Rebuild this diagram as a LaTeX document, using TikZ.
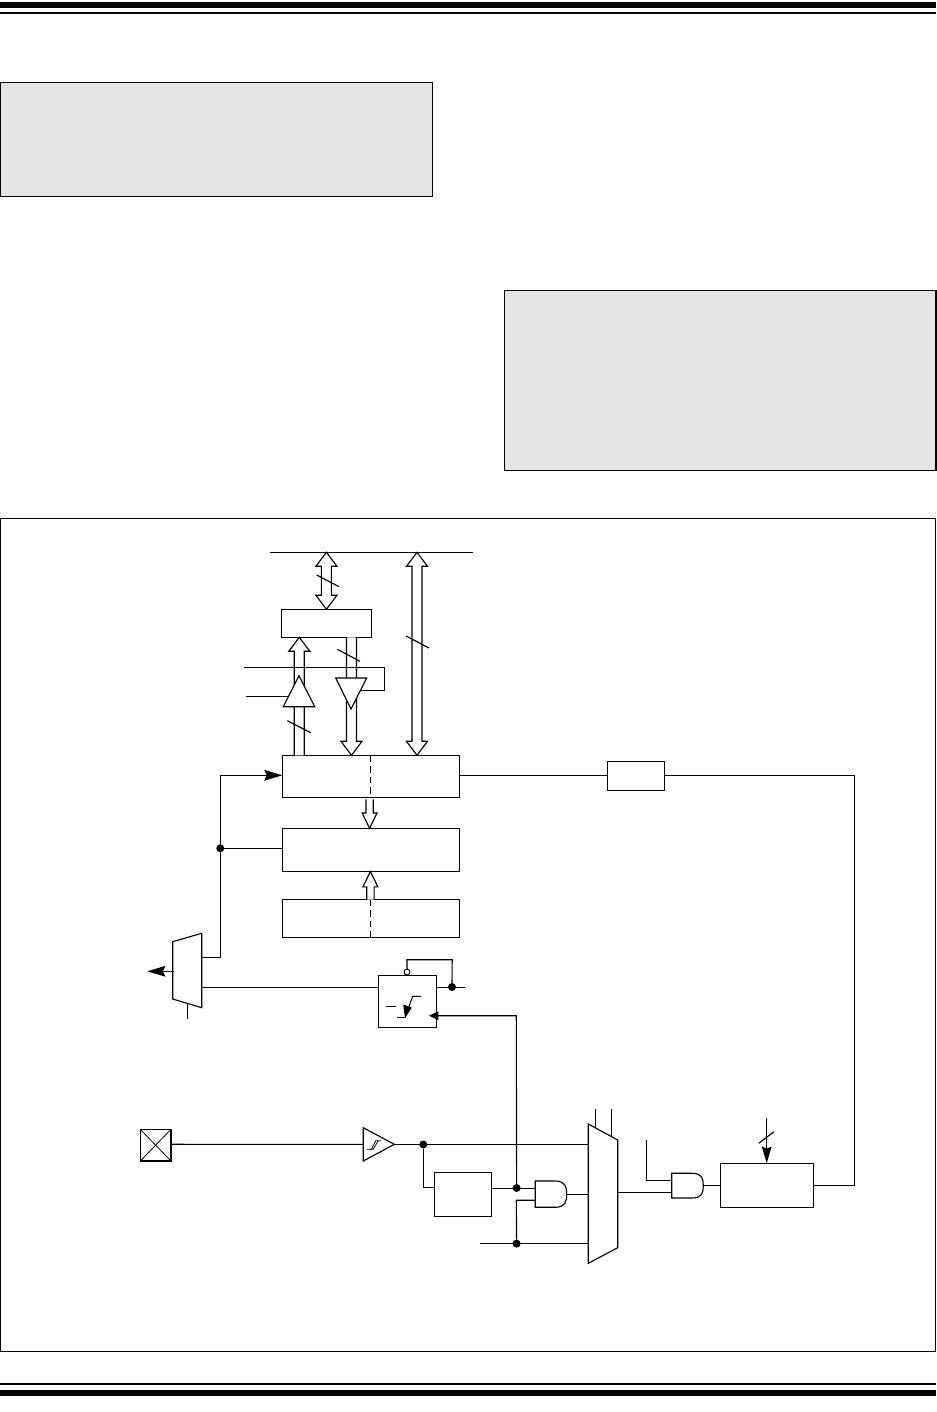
\documentclass[tikz,border=0pt]{standalone}
\usetikzlibrary{arrows.meta,calc}
\def\u{0.75pt}
\def\sw{3.75pt}\def\hw{7.9pt}\def\hl{10.5pt}
\tikzset{
  x=0.75pt,y=-0.75pt,
  wire/.style={line width=0.85pt,line cap=butt,line join=miter},
  blk/.style={draw=black,fill=white,line width=0.85pt,inner sep=0pt,outer sep=0pt},
  panel/.style={draw=black,fill=black!10,line width=0.95pt,inner sep=0pt,outer sep=0pt},
  bar/.style={fill=black,draw=none,inner sep=0pt,outer sep=0pt},
  ghost/.style={inner sep=0pt,outer sep=0pt},
  junction/.style={circle,fill=black,draw=none,minimum size=6pt,inner sep=0pt,outer sep=0pt},
  bubble/.style={circle,fill=white,draw=black,line width=0.7pt,minimum size=4.4pt,inner sep=0pt,outer sep=0pt},
  sarrow/.style={wire,-{Stealth[length=13.5pt,width=8pt,inset=1.8pt]}},
  sarrowb/.style={wire,-{Stealth[length=12.5pt,width=7.2pt,inset=1.5pt]}},
  sarrowc/.style={wire,-{Stealth[length=7pt,width=6.4pt,inset=0pt]}},
  bus/.style={draw=black,fill=white,line width=0.85pt,line join=miter},
  tick/.style={line width=0.85pt},
  dashv/.style={line width=0.85pt,dash pattern=on 5pt off 3pt},
  slim/.style={line width=0.6pt},
}
% rectangle node given by its corners in reference pixels
\newcommand\rectnode[6]{%
  \pgfmathsetmacro\cxx{(#3+#5)/2}\pgfmathsetmacro\cyy{(#4+#6)/2}%
  \pgfmathsetmacro\ww{(#5-#3)*0.75}\pgfmathsetmacro\hh{(#6-#4)*0.75}%
  \node[#1,minimum width=\ww pt,minimum height=\hh pt] (#2) at (\cxx,\cyy) {};}
% hollow bus arrow: open end at #1, head at #2
\newcommand\busone[2]{%
  \path[bus] let \p1=(#1),\p2=(#2),\n1={(\y2-\y1)/abs(\y2-\y1)} in
   ({\x2-\sw},\y1) -- ({\x2-\sw},{\y2-\n1*\hl}) -- ({\x2-\hw},{\y2-\n1*\hl}) -- (\x2,\y2)
   -- ({\x2+\hw},{\y2-\n1*\hl}) -- ({\x2+\sw},{\y2-\n1*\hl}) -- ({\x2+\sw},\y1);}
% hollow bus arrow with heads at both ends
\newcommand\busboth[2]{%
  \path[bus] let \p1=(#1),\p2=(#2),\n1={(\y2-\y1)/abs(\y2-\y1)} in
   (\x2,\y1) -- ({\x2-\hw},{\y1+\n1*\hl}) -- ({\x2-\sw},{\y1+\n1*\hl}) -- ({\x2-\sw},{\y2-\n1*\hl}) -- ({\x2-\hw},{\y2-\n1*\hl}) -- (\x2,\y2)
   -- ({\x2+\hw},{\y2-\n1*\hl}) -- ({\x2+\sw},{\y2-\n1*\hl}) -- ({\x2+\sw},{\y1+\n1*\hl}) -- ({\x2+\hw},{\y1+\n1*\hl}) -- cycle;}
% AND gate: name, corners
\newcommand\andgate[5]{%
  \rectnode{ghost}{#1}{#2}{#3}{#4}{#5}%
  \pgfmathsetmacro\rr{(#5-#3)/2}\pgfmathsetmacro\xs{#4-\rr*0.9}\pgfmathsetmacro\rx{\rr*0.9}%
  \draw[blk] (#1.north west) -- (\xs,#3) .. controls ({\xs+\rx*0.9},#3) and (#4,{#3+\rr*0.45}) .. (#4,{#3+\rr}) .. controls (#4,{#5-\rr*0.45}) and ({\xs+\rx*0.9},#5) .. (\xs,#5) -- (#1.south west) -- cycle;}
\begin{document}
\begin{tikzpicture}
\useasboundingbox (0,0) rectangle (937,1412);
% page rules
\rectnode{bar}{ruleA}{0}{2}{936}{8}
\rectnode{bar}{ruleB}{0}{12}{936}{14}
\rectnode{bar}{ruleC}{0}{1383}{936}{1385}
\rectnode{bar}{ruleD}{0}{1390}{936}{1396}
% shaded panels and frame
\rectnode{panel}{noteA}{0.6}{82.6}{432.2}{196.2}
\rectnode{panel}{noteB}{504.4}{290.6}{936}{470.2}
\rectnode{blk}{frame}{0.6}{518.3}{935.7}{1351.4}
% bus rail
\coordinate (railL) at (270,552.3);
\coordinate (railR) at (473,552.3);
\draw[wire] (railL) -- (railR);
% blocks
\rectnode{blk}{reg}{281.3}{609.3}{371.3}{637.3}
\rectnode{blk}{main}{282.3}{755.3}{459.7}{797.3}
\rectnode{blk}{mid}{282.3}{828.3}{459.7}{871.3}
\rectnode{blk}{low}{282.3}{899.3}{459.7}{937.3}
\rectnode{blk}{small}{607.3}{761.3}{664.7}{790.3}
\rectnode{blk}{ff}{378.3}{975.3}{436.3}{1027.3}
\rectnode{blk}{delay}{434.3}{1172.3}{491.7}{1216.3}
\rectnode{blk}{ctr}{720.3}{1163.3}{813.3}{1207.3}
\rectnode{blk}{pin}{140.3}{1129.3}{171}{1161}
\draw[slim] (pin.north west) -- (pin.south east) (pin.north east) -- (pin.south west);
% dashed dividers
\draw[dashv] (370.3,755.3) -- (370.3,797.3);
\draw[dashv] (370.3,899.3) -- (370.3,937.3);
% bus arrows
\coordinate (railA) at (326.4,552.3);
\coordinate (railB) at (417,552.3);
\coordinate (regN) at (326.4,609.3);
\coordinate (mainB) at (417,755.3);
\coordinate (regUp) at (299.3,637.3);
\coordinate (mainUp) at (299.3,755.3);
\coordinate (regDn) at (351.5,637.3);
\coordinate (mainDn) at (351.5,755.3);
\busboth{railA}{regN}
\busboth{railB}{mainB}
\busone{mainUp}{regUp}
\busone{regDn}{mainDn}
% narrower bus arrows between blocks
\begingroup
\def\sw{2.75pt}\def\hw{5.6pt}\def\hl{11.5pt}
\coordinate (mainS) at (369.6,799.3);
\coordinate (midN) at (369.6,828.3);
\coordinate (lowN) at (370.4,899.6);
\coordinate (midS) at (370.4,871.5);
\busone{mainS}{midN}
\busone{lowN}{midS}
\endgroup
% enable lines crossing the buses
\coordinate (enA) at (244,667.3); \coordinate (enB) at (384.3,667.3); \coordinate (enC) at (384.3,690.3); \coordinate (enD) at (360.8,690.3);
\draw[wire] (enA) -- (enB) -- (enC) -- (enD);
% tristate buffers
\coordinate (tuA) at (299,675.7); \coordinate (tuB) at (283.3,706.7); \coordinate (tuC) at (314.7,706.7);
\draw[bus] (tuA) -- (tuB) -- (tuC) -- cycle;
\coordinate (tdA) at (335.7,678); \coordinate (tdB) at (366.7,678); \coordinate (tdC) at (351,709);
\draw[bus] (tdA) -- (tdB) -- (tdC) -- cycle;
\coordinate (en2) at (246,696.3); \coordinate (en2e) at (288.4,696.3);
\draw[wire] (en2) -- (en2e);
% bus width ticks
\draw[tick] (316.7,575) -- (339,586.7);
\draw[tick] (337.3,649.3) -- (360,661.3);
\draw[tick] (287.3,720.7) -- (310.7,732.7);
\draw[tick] (406,636) -- (429,648);
\draw[tick] (758.7,1143.3) -- (774,1131.7);
% left mux
\coordinate (mxA) at (172.7,941.7); \coordinate (mxB) at (201.7,933.3); \coordinate (mxC) at (201.7,1007.7); \coordinate (mxD) at (172.7,999);
\draw[bus] (mxA) -- (mxB) -- (mxC) -- (mxD) -- cycle;
\coordinate (mxOut) at (174,971.3); \coordinate (mxTip) at (147.3,971.3);
\draw[sarrow] (mxOut) -- (mxTip);
\coordinate (mxSelT) at (187.3,1003.4); \coordinate (mxSelB) at (187.3,1018.7);
\draw[wire] (mxSelT) -- (mxSelB);
\coordinate (mxI1) at (201.7,957.3); \coordinate (mxI2) at (201.7,987.3);
\node[junction] (dotL) at (220.3,848.3) {};
\draw[sarrow] (mxI1) -- (220.3,957.3) -- (220.3,775.3) -- (main.west |- 0,775.3);
\draw[wire] (dotL) -- (mid.west |- dotL);
\draw[wire] (mxI2) -- (ff.west |- mxI2);
% flip-flop
\node[bubble] (ffq) at (407,972) {};
\node[junction] (dotQ) at (452,987) {};
\coordinate (ffOut) at (464.7,987.3);
\draw[wire] (ff.east |- ffOut) -- (ffOut);
\draw[wire] (ffq.north) -- (407,959.7) -- (452.2,959.7) -- (dotQ);
\draw[wire,line width=0.75pt] (386,1006.3) -- (396,1006.3);
\draw[wire,line width=0.75pt] (397,1017.3) -- (405.3,1017.3);
\draw[wire,line width=0.75pt] (421,996.3) -- (412.7,996.3) -- (408,1009);
\fill (405,1018.3) -- (403.2,1004.5) -- (411.8,1007.6) -- cycle;
% input chain
\coordinate (bfA) at (363.3,1127.7); \coordinate (bfB) at (363.3,1161); \coordinate (bfC) at (394.3,1144.3);
\draw[bus] (bfA) -- (bfC) -- (bfB) -- cycle;
\draw[slim] (366.7,1149.3) -- (371.5,1149.3) -- (375.7,1140.7) -- (381,1140.7);
\draw[slim] (370,1149.3) -- (373.2,1149.3) -- (378.2,1140.7);
\draw[wire] (pin.east |- bfC) -- ($(bfA)!0.5!(bfB)$);
% input mux
\coordinate (imA) at (588.3,1124); \coordinate (imB) at (617.7,1140); \coordinate (imC) at (617.7,1247.7); \coordinate (imD) at (588.3,1263.3);
\draw[bus] (imA) -- (imB) -- (imC) -- (imD) -- cycle;
\coordinate (sel1) at (595.7,1109); \coordinate (sel1e) at (595.7,1128);
\coordinate (sel2) at (611.3,1109); \coordinate (sel2e) at (611.3,1136.5);
\draw[wire] (sel1) -- (sel1e);
\draw[wire] (sel2) -- (sel2e);
\node[junction] (dotIn) at (423.3,1144.5) {};
\coordinate (imI1) at (588.3,1144.3);
\draw[wire] (bfC) -- (imI1);
\draw[wire] (dotIn) -- (423.3,1187.3) -- (delay.west |- 0,1187.3);
% AND gates
\andgate{gA}{535.3}{1181}{566.7}{1207.3}
\andgate{gB}{671.7}{1173.3}{703.3}{1198}
\node[junction] (dotAnd) at (516.6,1188) {};
\node[junction] (dotEn) at (516.6,1243.6) {};
\coordinate (enIn) at (480,1243.3);
\coordinate (imI3) at (588.3,1243.3);
\draw[wire] (enIn) -- (imI3);
\draw[wire] (delay.east |- 0,1188.3) -- (gA.west |- 0,1188.3);
\draw[wire] (dotEn) -- (516.3,1200.3) -- (gA.west |- 0,1200.3);
\draw[wire] (gA.east) -- (imA |- gA.east);
\coordinate (ffClk) at (429,1015.7);
\draw[sarrowc] (dotAnd) -- (516.3,1015.7) -- (ffClk);
% second AND and counter
\coordinate (imOut) at (617.7,1192.3);
\draw[wire] (imOut) -- (gB.west |- imOut);
\coordinate (gBin) at (646.3,1140);
\draw[wire] (gBin) -- (646.3,1180.3) -- (gB.west |- 0,1180.3);
\draw[wire] (gB.east |- 0,1185.3) -- (ctr.west |- 0,1185.3);
\coordinate (ctrIn) at (766.7,1118.3);
\draw[sarrowb] (ctrIn) -- (ctr.north -| ctrIn);
% long feedback
\draw[wire] (ctr.east |- 0,1185.3) -- (854.7,1185.3) -- (854.7,775.3) -- (small.east |- 0,775.3);
\draw[wire] (main.east |- 0,775.3) -- (small.west |- 0,775.3);
\end{tikzpicture}
\end{document}
